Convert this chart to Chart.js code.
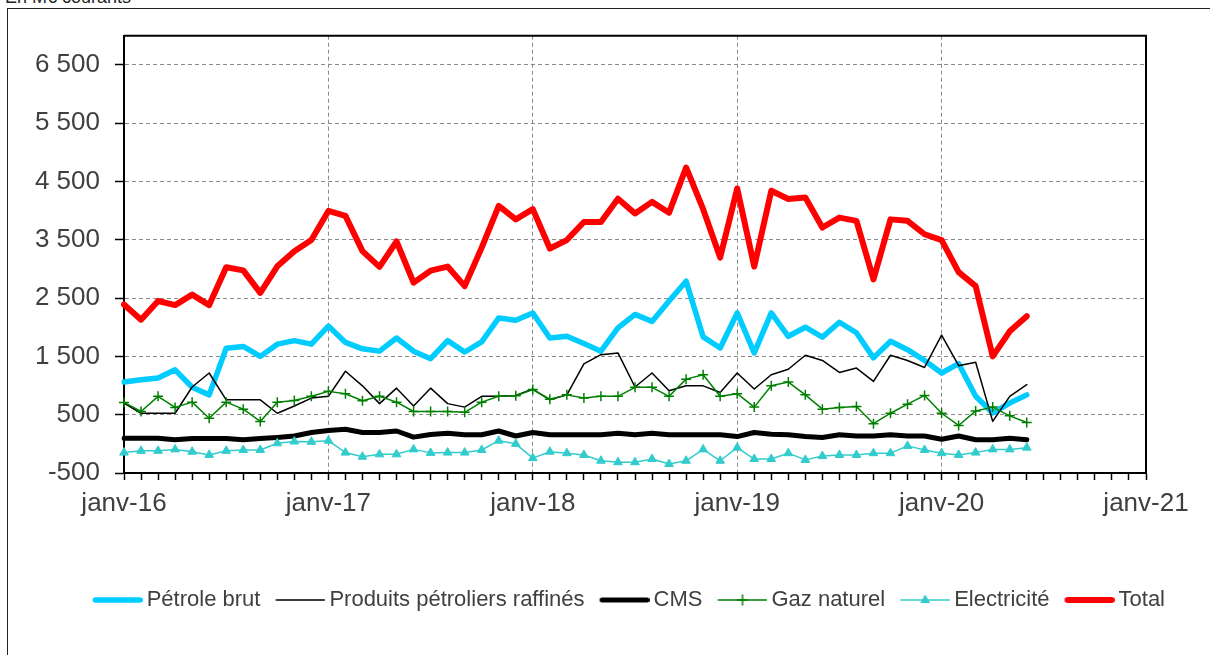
<!DOCTYPE html>
<html lang="fr">
<head>
<meta charset="utf-8">
<title>Échanges d'énergie - En M€ courants</title>
<script src="https://cdn.jsdelivr.net/npm/chart.js@4.4.1/dist/chart.umd.min.js"></script>
<style>
  html, body { margin: 0; padding: 0; background: #fff; overflow: hidden; }
  #page { position: relative; width: 1210px; height: 655px; overflow: hidden; }
  #unite { position: absolute; left: 5px; top: -12px; font: 18px "Liberation Sans", Arial, sans-serif; line-height: 18px; color: #222; white-space: nowrap; }
  #cadre { position: absolute; left: 7px; top: 8px; width: 1300px; height: 800px; border: 1px solid #222; }
  #graph { position: absolute; left: 0; top: 0; }
</style>
</head>
<body>
<div id="page">
  <div id="unite">En M€ courants</div>
  <div id="cadre"></div>
  <canvas id="graph" width="1210" height="655"></canvas>
</div>
<script>
// mois de janv-16 à janv-21 (axe), données de janv-16 à juin-20
var moisNoms = ['janv', 'févr', 'mars', 'avr', 'mai', 'juin', 'juil', 'août', 'sept', 'oct', 'nov', 'déc'];
var annees = ['16', '17', '18', '19', '20'];
var mois = [];
annees.forEach(function(a) {
    moisNoms.forEach(function(m) { mois.push(m + '-' + a) })
})
mois.push('janv-21');

var petroleBrut = [1060, 1100, 1130, 1270, 970, 840, 1640, 1670, 1500, 1710,
    1770, 1710, 2020, 1740, 1630, 1590, 1815, 1590, 1460, 1770,
    1575, 1750, 2160, 2120, 2245, 1815, 1845, 1720, 1590, 1990,
    2220, 2100, 2450, 2790, 1835, 1645, 2245, 1560, 2245, 1845,
    2000, 1830, 2085, 1905, 1475, 1760, 1615, 1430, 1215, 1375,
    815, 530, 700, 840];
var produitsRaffines = [700, 525, 525, 525, 975, 1215, 755, 755, 755, 525,
    650, 785, 815, 1245, 995, 690, 955, 650, 955, 690,
    630, 815, 815, 830, 940, 755, 840, 1370, 1530, 1560,
    975, 1215, 910, 995, 995, 880, 1215, 940, 1185, 1280,
    1520, 1430, 1225, 1300, 1070, 1520, 1430, 1310, 1865, 1340,
    1400, 385, 815, 1015];
var cms = [95, 95, 95, 70, 90, 90, 90, 70, 90, 110,
    135, 195, 230, 250, 195, 195, 220, 115, 160, 180,
    155, 155, 220, 135, 195, 155, 155, 155, 155, 180,
    155, 180, 155, 155, 155, 155, 125, 195, 165, 155,
    125, 110, 155, 135, 135, 155, 135, 135, 80, 135,
    70, 70, 95, 70];
var gazNaturel = [710, 555, 815, 625, 715, 440, 715, 595, 385, 715,
    745, 815, 900, 860, 740, 815, 715, 555, 555, 555,
    540, 715, 815, 825, 930, 765, 840, 785, 815, 815,
    970, 970, 815, 1110, 1185, 815, 860, 630, 995, 1060,
    840, 595, 625, 640, 345, 525, 680, 830, 525, 315,
    565, 630, 480, 365];
var electricite = [-150, -120, -120, -95, -135, -190, -120, -105, -105, 10,
    40, 35, 55, -150, -220, -180, -180, -95, -155, -150,
    -150, -105, 55, 0, -245, -135, -160, -190, -290, -315,
    -315, -260, -345, -290, -95, -290, -65, -260, -260, -160,
    -275, -210, -190, -190, -160, -160, -35, -105, -160, -190,
    -150, -95, -95, -65];
var total = [2390, 2130, 2450, 2380, 2560, 2380, 3030, 2975, 2590, 3045,
    3305, 3495, 3995, 3910, 3305, 3035, 3470, 2765, 2970, 3040,
    2705, 3365, 4080, 3850, 4025, 3350, 3495, 3805, 3805, 4205,
    3950, 4150, 3965, 4740, 4025, 3195, 4380, 3040, 4340, 4200,
    4225, 3710, 3880, 3825, 2820, 3850, 3825, 3595, 3495, 2945,
    2705, 1500, 1930, 2190];

var police = '"Liberation Sans", Arial, sans-serif';
var gris = '#8a8a8a';
var texte = '#404040';

// petite image ligne + marque pour la légende
function imageLegende(couleur, epaisseur, marque) {
    var c = document.createElement('canvas');
    c.width = 57; c.height = 14;
    var g = c.getContext('2d');
    g.strokeStyle = couleur; g.fillStyle = couleur;
    g.lineWidth = epaisseur; g.lineCap = 'round';
    g.beginPath();
    g.moveTo(7 + epaisseur / 2, 7);
    g.lineTo(57 - epaisseur / 2, 7);
    g.stroke();
    if (marque == 'plus') {
        g.lineWidth = 1.5;
        g.beginPath();
        g.moveTo(32, 2); g.lineTo(32, 12);
        g.moveTo(27, 7); g.lineTo(37, 7);
        g.stroke();
    }
    if (marque == 'triangle') {
        g.beginPath();
        g.moveTo(32, 1.5); g.lineTo(37, 10); g.lineTo(27, 10);
        g.closePath(); g.fill();
    }
    return c;
}

var images = [
    imageLegende('#00CCFF', 5.5),
    imageLegende('#000000', 1.5),
    imageLegende('#000000', 5),
    imageLegende('#008000', 1.5, 'plus'),
    imageLegende('#33CCCC', 1.5, 'triangle'),
    imageLegende('#FF0000', 6)
];

function serie(label, data, couleur, epaisseur, ordre) {
    return {
        label: label,
        data: data,
        borderColor: couleur,
        backgroundColor: couleur,
        borderWidth: epaisseur,
        pointRadius: 0,
        tension: 0,
        fill: false,
        borderJoinStyle: 'round',
        borderCapStyle: 'round',
        order: ordre
    };
}

var dsGaz = serie('Gaz naturel', gazNaturel, '#008000', 1.5, 2);
dsGaz.pointStyle = 'cross';
dsGaz.pointRadius = 5;
dsGaz.pointBorderWidth = 1.5;
dsGaz.pointBorderColor = '#008000';

var dsElec = serie('Electricité', electricite, '#33CCCC', 1.5, 1);
dsElec.pointStyle = 'triangle';
dsElec.pointRadius = 5;
dsElec.pointBorderWidth = 1;
dsElec.pointBackgroundColor = '#33CCCC';
dsElec.pointBorderColor = '#33CCCC';

var datasets = [
    serie('Pétrole brut', petroleBrut, '#00CCFF', 5.5, 5),
    serie('Produits pétroliers raffinés', produitsRaffines, '#000000', 1.5, 4),
    serie('CMS', cms, '#000000', 5, 3),
    dsGaz,
    dsElec,
    serie('Total', total, '#FF0000', 6, 0)
];

function formatMillier(v) {
    var s = String(Math.abs(v)).replace(/\B(?=(\d{3})+(?!\d))/g, ' ');
    return (v < 0 ? '-' : '') + s;
}

// bord haut et droit de la zone de tracé
var cadreZone = {
    id: 'cadreZone',
    beforeDatasetsDraw: function(chart) {
        var a = chart.chartArea, g = chart.ctx;
        g.save();
        g.strokeStyle = '#000';
        g.lineWidth = 2;
        g.beginPath();
        g.moveTo(a.left, a.top);
        g.lineTo(a.right, a.top);
        g.lineTo(a.right, a.bottom);
        g.stroke();
        g.restore();
    }
};

Chart.defaults.font.family = police;

new Chart(document.getElementById('graph').getContext('2d'), {
    type: 'line',
    data: { labels: mois, datasets: datasets },
    plugins: [cadreZone],
    options: {
        responsive: false,
        animation: false,
        devicePixelRatio: 1,
        events: [],
        layout: { padding: { left: 24, right: 30, top: 35.7, bottom: 34 } },
        plugins: {
            tooltip: { enabled: false },
            title: { display: false },
            legend: {
                position: 'bottom',
                align: 'end',
                labels: {
                    usePointStyle: true,
                    pointStyleWidth: 43,
                    padding: 15,
                    color: texte,
                    font: { size: 22, family: police },
                    sort: function(a, b) { return a.datasetIndex - b.datasetIndex },
                    generateLabels: function(chart) {
                        var items = Chart.defaults.plugins.legend.labels.generateLabels(chart);
                        items.forEach(function(it) { it.pointStyle = images[it.datasetIndex] });
                        return items;
                    }
                }
            }
        },
        scales: {
            x: {
                type: 'category',
                offset: false,
                grid: {
                    color: function(ctx) {
                        return (ctx.index % 12 === 0 && ctx.index > 0 && ctx.index < 60) ? gris : 'rgba(0,0,0,0)';
                    },
                    lineWidth: 1,
                    tickColor: '#000',
                    tickLength: 7,
                    tickWidth: 1.5
                },
                border: { color: '#000', width: 2, dash: [4, 3] },
                ticks: {
                    autoSkip: false,
                    maxRotation: 0,
                    minRotation: 0,
                    padding: 8,
                    color: texte,
                    font: { size: 26, family: police },
                    callback: function(val) {
                        var l = this.getLabelForValue(val);
                        return l.indexOf('janv') === 0 ? l : '';
                    }
                },
                afterFit: function(s) {
                    s.height = 101;
                    s.paddingLeft = 0;
                    s.paddingRight = 64;
                }
            },
            y: {
                min: -500,
                max: 7000,
                grid: {
                    color: function(ctx) {
                        var v = ctx.tick ? ctx.tick.value : 0;
                        return (v > -500 && v <= 6500 && (v + 500) % 1000 === 0) ? gris : 'rgba(0,0,0,0)';
                    },
                    lineWidth: 1,
                    tickColor: '#000',
                    tickLength: 9,
                    tickWidth: 1.5
                },
                border: { color: '#000', width: 2, dash: [4, 3] },
                ticks: {
                    stepSize: 500,
                    padding: 15,
                    color: texte,
                    font: { size: 26, family: police },
                    callback: function(v) {
                        if ((v + 500) % 1000 !== 0 || v > 6500) return '';
                        return formatMillier(v);
                    }
                },
                afterFit: function(s) {
                    s.width = 100;
                    s.paddingTop = 0;
                    s.paddingBottom = 0;
                }
            }
        }
    }
});
</script>
</body>
</html>
